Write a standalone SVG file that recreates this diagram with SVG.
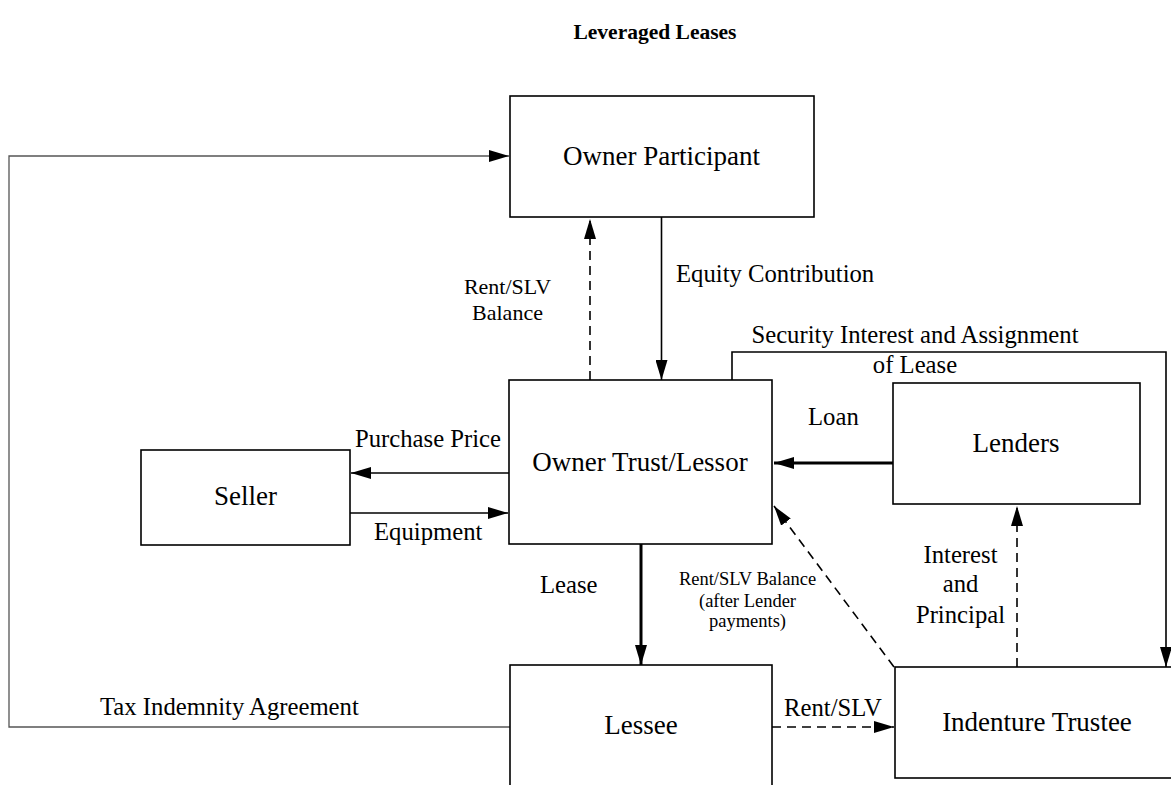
<svg xmlns="http://www.w3.org/2000/svg" width="1171" height="785" viewBox="0 0 1171 785">
<style>
  .box { fill: #fff; stroke: #000; stroke-width: 1.6; }
  .node { font-family: "Liberation Serif", "Times New Roman", serif; font-size: 27px; fill: #000; text-anchor: middle; }
  .lbl { font-family: "Liberation Serif", "Times New Roman", serif; font-size: 24.7px; fill: #000; }
  .sm { font-family: "Liberation Serif", "Times New Roman", serif; font-size: 18.5px; fill: #000; text-anchor: middle; }
  .title { font-family: "Liberation Serif", "Times New Roman", serif; font-size: 21.5px; font-weight: bold; text-anchor: middle; fill: #000; }
  .ln { fill: none; stroke: #000; stroke-width: 1.6; }
  .thin { fill: none; stroke: #555; stroke-width: 1.3; }
  .dash { fill: none; stroke: #000; stroke-width: 1.6; stroke-dasharray: 9 6; }
  .thick { fill: none; stroke: #000; stroke-width: 3; }
</style>
<defs>
  <marker id="ah" viewBox="0 0 20 12" refX="20" refY="6" markerUnits="userSpaceOnUse" markerWidth="20" markerHeight="12" orient="auto">
    <path d="M0,0 L20,6 L0,12 Z" fill="#000"/>
  </marker>
</defs>
<rect width="1171" height="785" fill="#fff"/>
<text class="title" x="655" y="39">Leveraged Leases</text>

<g id="connectors">
  <polyline class="thin" points="510,727 9,727 9,156 509,156" marker-end="url(#ah)"/>
  <line class="ln" x1="661.5" y1="217" x2="661.5" y2="380" marker-end="url(#ah)"/>
  <line class="dash" x1="590" y1="380" x2="590" y2="219" marker-end="url(#ah)"/>
  <line class="ln" x1="509" y1="473" x2="351" y2="473" marker-end="url(#ah)"/>
  <line class="ln" x1="350" y1="513" x2="508" y2="513" marker-end="url(#ah)"/>
  <line class="thick" x1="893" y1="463" x2="774" y2="463" marker-end="url(#ah)"/>
  <polyline class="ln" points="732,380 732,352 1166,352 1166,667" marker-end="url(#ah)"/>
  <line class="thick" x1="641" y1="544" x2="641" y2="665" marker-end="url(#ah)"/>
  <line class="dash" x1="894" y1="667" x2="774" y2="506" marker-end="url(#ah)"/>
  <line class="dash" x1="1017" y1="667" x2="1017" y2="506" marker-end="url(#ah)"/>
  <line class="dash" x1="772" y1="727" x2="894" y2="727" marker-end="url(#ah)"/>
</g>

<g id="owner-participant">
  <rect class="box" x="510" y="96" width="304" height="121"/>
  <text class="node" x="661.5" y="165">Owner Participant</text>
</g>
<g id="owner-trust">
  <rect class="box" x="509" y="380" width="263" height="164"/>
  <text class="node" x="640" y="471">Owner Trust/Lessor</text>
</g>
<g id="seller">
  <rect class="box" x="141" y="450" width="209" height="95"/>
  <text class="node" x="245.5" y="505">Seller</text>
</g>
<g id="lenders">
  <rect class="box" x="893" y="383" width="247" height="121"/>
  <text class="node" x="1016" y="452">Lenders</text>
</g>
<g id="lessee">
  <rect class="box" x="510" y="665" width="262" height="130"/>
  <text class="node" x="641" y="734">Lessee</text>
</g>
<g id="indenture-trustee">
  <rect class="box" x="895" y="667" width="290" height="111"/>
  <text class="node" x="1037" y="731">Indenture Trustee</text>
</g>

<g id="labels">
  <text class="lbl" x="676" y="282">Equity Contribution</text>
  <text class="lbl" x="507.5" y="294" text-anchor="middle" style="font-size:22px">Rent/SLV</text>
  <text class="lbl" x="507.5" y="320" text-anchor="middle" style="font-size:22px">Balance</text>
  <text class="lbl" x="915" y="343" text-anchor="middle">Security Interest and Assignment</text>
  <text class="lbl" x="915" y="373" text-anchor="middle">of Lease</text>
  <text class="lbl" x="808" y="425">Loan</text>
  <text class="lbl" x="355" y="447">Purchase Price</text>
  <text class="lbl" x="374" y="540">Equipment</text>
  <text class="lbl" x="540" y="593">Lease</text>
  <text class="sm" x="747.5" y="585">Rent/SLV Balance</text>
  <text class="sm" x="747.5" y="607">(after Lender</text>
  <text class="sm" x="747.5" y="627">payments)</text>
  <text class="lbl" x="960.5" y="563" text-anchor="middle">Interest</text>
  <text class="lbl" x="960.5" y="592" text-anchor="middle">and</text>
  <text class="lbl" x="960.5" y="623" text-anchor="middle">Principal</text>
  <text class="lbl" x="784" y="716">Rent/SLV</text>
  <text class="lbl" x="100" y="715">Tax Indemnity Agreement</text>
</g>
</svg>
